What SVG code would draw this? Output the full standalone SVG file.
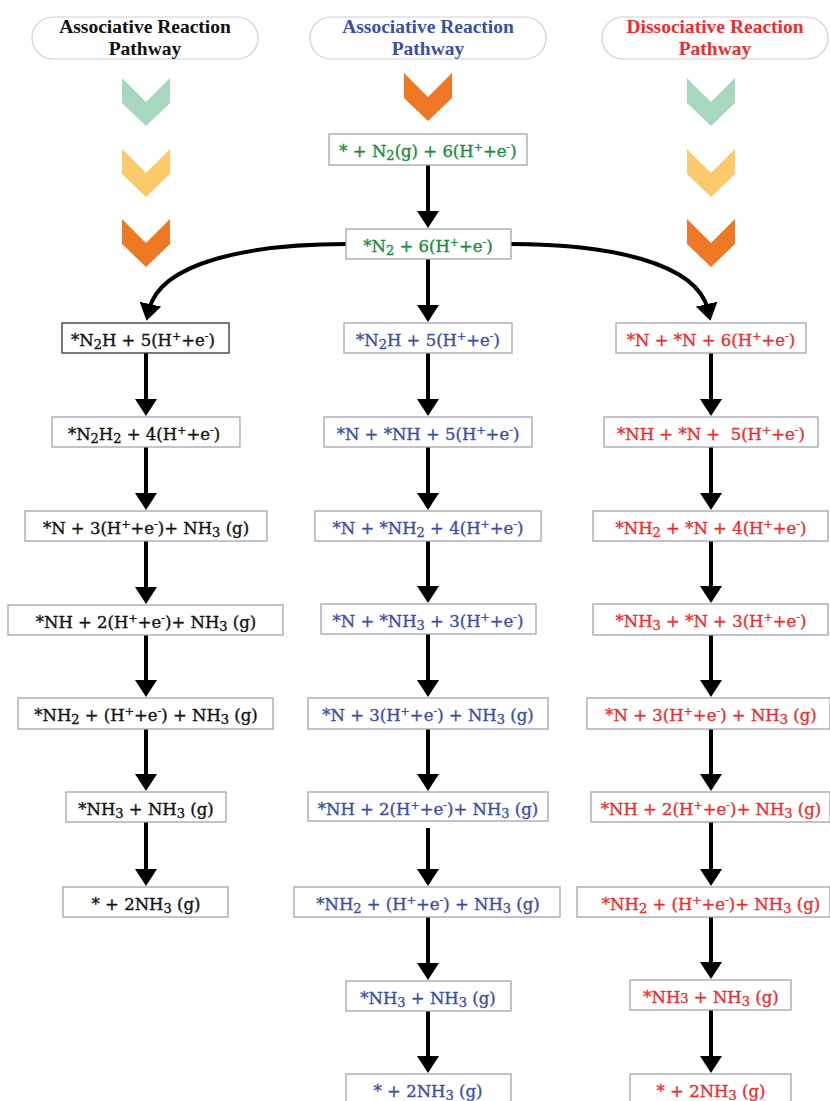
<svg xmlns="http://www.w3.org/2000/svg" width="830" height="1101" viewBox="0 0 830 1101">
<style>
.pill{fill:#fff;stroke:#cfcfd4;stroke-width:1.2}
.hd{font-family:"Liberation Serif",serif;font-weight:bold;font-size:19.5px;text-anchor:middle}
.box{fill:#fff;stroke:#a3a4b4;stroke-width:1.3}
.dk{stroke:#333}
.t{font-family:"DejaVu Serif","Liberation Serif",serif;font-size:16.5px;text-anchor:middle;stroke-width:0.35px}
.k{fill:#111;stroke:#111}
.b{fill:#3c4ea6;stroke:#3c4ea6}
.g{fill:#1c8a3c;stroke:#1c8a3c}
.r{fill:#ef2b2b;stroke:#ef2b2b}
.hd.k,.hd.b,.hd.r{stroke:none}
.s{font-size:13px;baseline-shift:-3px}
.p{font-size:11px;baseline-shift:6px}
.n{font-size:13px}
.ln{fill:none;stroke:#000;stroke-width:4;marker-end:url(#ah)}
</style>
<defs>
<marker id="ah" markerUnits="userSpaceOnUse" markerWidth="17" markerHeight="22" refX="6" refY="11" orient="auto" viewBox="0 0 17 22">
<polygon points="0,0 17,11 0,22" fill="#000"/>
</marker>
<path id="chev" d="M-24,0 L0,24 L24,0 L24,25 L0,48 L-24,25 Z"/>
</defs>
<rect width="830" height="1101" fill="#fff"/>

<g id="header-left">
<rect class="pill" x="32" y="17" width="226" height="42" rx="21"/>
<text class="hd k" x="145" y="33">Associative Reaction</text>
<text class="hd k" x="145" y="55">Pathway</text>
</g>
<g id="header-mid">
<rect class="pill" x="310" y="17" width="236" height="42" rx="21"/>
<text class="hd b" x="428" y="33">Associative Reaction</text>
<text class="hd b" x="428" y="55">Pathway</text>
</g>
<g id="header-right">
<rect class="pill" x="602" y="17" width="226" height="42" rx="21"/>
<text class="hd r" x="715" y="33">Dissociative Reaction</text>
<text class="hd r" x="715" y="55">Pathway</text>
</g>

<g id="chevrons">
<use href="#chev" x="146" y="78" fill="#a7d7bd"/>
<use href="#chev" x="146" y="149" fill="#fdca6b"/>
<use href="#chev" x="146" y="219" fill="#f07824"/>
<use href="#chev" x="428" y="73" fill="#f07824"/>
<use href="#chev" x="711" y="78" fill="#a7d7bd"/>
<use href="#chev" x="711" y="149" fill="#fdca6b"/>
<use href="#chev" x="711" y="219" fill="#f07824"/>
</g>

<g id="connectors">
<path class="ln" d="M346,244 C250,244 160,262 149,310"/>
<path class="ln" d="M511,244 C607,244 697,262 708,310"/>
<line class="ln" x1="146" y1="353" x2="146" y2="405"/>
<line class="ln" x1="146" y1="447" x2="146" y2="499"/>
<line class="ln" x1="146" y1="541" x2="146" y2="593"/>
<line class="ln" x1="146" y1="635" x2="146" y2="686"/>
<line class="ln" x1="146" y1="729" x2="146" y2="780"/>
<line class="ln" x1="146" y1="822" x2="146" y2="875"/>
<line class="ln" x1="428" y1="165" x2="428" y2="217"/>
<line class="ln" x1="428" y1="259" x2="428" y2="311"/>
<line class="ln" x1="428" y1="353" x2="428" y2="405"/>
<line class="ln" x1="428" y1="447" x2="428" y2="499"/>
<line class="ln" x1="428" y1="541" x2="428" y2="592"/>
<line class="ln" x1="428" y1="634" x2="428" y2="686"/>
<line class="ln" x1="428" y1="729" x2="428" y2="780"/>
<line class="ln" x1="428" y1="828" x2="428" y2="875"/>
<line class="ln" x1="428" y1="917" x2="428" y2="969"/>
<line class="ln" x1="428" y1="1011" x2="428" y2="1062"/>
<line class="ln" x1="711" y1="353" x2="711" y2="405"/>
<line class="ln" x1="711" y1="447" x2="711" y2="499"/>
<line class="ln" x1="711" y1="541" x2="711" y2="592"/>
<line class="ln" x1="711" y1="635" x2="711" y2="686"/>
<line class="ln" x1="711" y1="729" x2="711" y2="780"/>
<line class="ln" x1="711" y1="822" x2="711" y2="875"/>
<line class="ln" x1="711" y1="917" x2="711" y2="968"/>
<line class="ln" x1="711" y1="1010" x2="711" y2="1062"/>
</g>

<g id="L1"><rect class="box dk" x="62" y="323" width="167" height="30"/><text class="t k" x="143" y="346">*N<tspan class="s">2</tspan>H + 5(H<tspan class="p">+</tspan>+e<tspan class="p">-</tspan>)</text></g>
<g id="L2"><rect class="box" x="52" y="417" width="188" height="30"/><text class="t k" x="144" y="440">*N<tspan class="s">2</tspan>H<tspan class="s">2</tspan> + 4(H<tspan class="p">+</tspan>+e<tspan class="p">-</tspan>)</text></g>
<g id="L3"><rect class="box" x="25" y="511" width="242" height="30"/><text class="t k" x="146" y="534">*N + 3(H<tspan class="p">+</tspan>+e<tspan class="p">-</tspan>)+ NH<tspan class="s">3</tspan> (g)</text></g>
<g id="L4"><rect class="box" x="8" y="605" width="275" height="30"/><text class="t k" x="146" y="628">*NH + 2(H<tspan class="p">+</tspan>+e<tspan class="p">-</tspan>)+ NH<tspan class="s">3</tspan> (g)</text></g>
<g id="L5"><rect class="box" x="18" y="698" width="255" height="31"/><text class="t k" x="146" y="721">*NH<tspan class="s">2</tspan> + (H<tspan class="p">+</tspan>+e<tspan class="p">-</tspan>) + NH<tspan class="s">3</tspan> (g)</text></g>
<g id="L6"><rect class="box" x="66" y="792" width="160" height="30"/><text class="t k" x="146" y="815">*NH<tspan class="s">3</tspan> + NH<tspan class="s">3</tspan> (g)</text></g>
<g id="L7"><rect class="box" x="63" y="887" width="165" height="30"/><text class="t k" x="146" y="910">* + 2NH<tspan class="s">3</tspan> (g)</text></g>

<g id="M0"><rect class="box" x="329" y="134" width="198" height="31"/><text class="t g" x="428" y="157">* + N<tspan class="s">2</tspan>(g) + 6(H<tspan class="p">+</tspan>+e<tspan class="p">-</tspan>)</text></g>
<g id="M00"><rect class="box" x="346" y="229" width="165" height="30"/><text class="t g" x="428" y="252">*N<tspan class="s">2</tspan> + 6(H<tspan class="p">+</tspan>+e<tspan class="p">-</tspan>)</text></g>
<g id="M1"><rect class="box" x="344" y="323" width="168" height="30"/><text class="t b" x="428" y="346">*N<tspan class="s">2</tspan>H + 5(H<tspan class="p">+</tspan>+e<tspan class="p">-</tspan>)</text></g>
<g id="M2"><rect class="box" x="324" y="417" width="208" height="30"/><text class="t b" x="428" y="440">*N + *NH + 5(H<tspan class="p">+</tspan>+e<tspan class="p">-</tspan>)</text></g>
<g id="M3"><rect class="box" x="315" y="511" width="226" height="30"/><text class="t b" x="428" y="534">*N + *NH<tspan class="s">2</tspan> + 4(H<tspan class="p">+</tspan>+e<tspan class="p">-</tspan>)</text></g>
<g id="M4"><rect class="box" x="321" y="604" width="215" height="30"/><text class="t b" x="428" y="627">*N + *NH<tspan class="s">3</tspan> + 3(H<tspan class="p">+</tspan>+e<tspan class="p">-</tspan>)</text></g>
<g id="M5"><rect class="box" x="308" y="698" width="240" height="31"/><text class="t b" x="428" y="721">*N + 3(H<tspan class="p">+</tspan>+e<tspan class="p">-</tspan>) + NH<tspan class="s">3</tspan> (g)</text></g>
<g id="M6"><rect class="box" x="308" y="792" width="240" height="29"/><text class="t b" x="428" y="815">*NH + 2(H<tspan class="p">+</tspan>+e<tspan class="p">-</tspan>)+ NH<tspan class="s">3</tspan> (g)</text></g>
<g id="M7"><rect class="box" x="294" y="887" width="266" height="30"/><text class="t b" x="428" y="910">*NH<tspan class="s">2</tspan> + (H<tspan class="p">+</tspan>+e<tspan class="p">-</tspan>) + NH<tspan class="s">3</tspan> (g)</text></g>
<g id="M8"><rect class="box" x="346" y="981" width="165" height="30"/><text class="t b" x="428" y="1004">*NH<tspan class="s">3</tspan> + NH<tspan class="s">3</tspan> (g)</text></g>
<g id="M9"><rect class="box" x="346" y="1074" width="165" height="32"/><text class="t b" x="428" y="1097">* + 2NH<tspan class="s">3</tspan> (g)</text></g>

<g id="R1"><rect class="box" x="616" y="323" width="190" height="30"/><text class="t r" x="711" y="346">*N + *N + 6(H<tspan class="p">+</tspan>+e<tspan class="p">-</tspan>)</text></g>
<g id="R2"><rect class="box" x="604" y="417" width="214" height="30"/><text class="t r" x="711" y="440" xml:space="preserve">*NH + *N +  5(H<tspan class="p">+</tspan>+e<tspan class="p">-</tspan>)</text></g>
<g id="R3"><rect class="box" x="593" y="511" width="235" height="30"/><text class="t r" x="711" y="534">*NH<tspan class="s">2</tspan> + *N + 4(H<tspan class="p">+</tspan>+e<tspan class="p">-</tspan>)</text></g>
<g id="R4"><rect class="box" x="593" y="604" width="235" height="31"/><text class="t r" x="711" y="627">*NH<tspan class="s">3</tspan> + *N + 3(H<tspan class="p">+</tspan>+e<tspan class="p">-</tspan>)</text></g>
<g id="R5"><rect class="box" x="587" y="698" width="243" height="31"/><text class="t r" x="711" y="721">*N + 3(H<tspan class="p">+</tspan>+e<tspan class="p">-</tspan>) + NH<tspan class="s">3</tspan> (g)</text></g>
<g id="R6"><rect class="box" x="591" y="792" width="239" height="30"/><text class="t r" x="711" y="815">*NH + 2(H<tspan class="p">+</tspan>+e<tspan class="p">-</tspan>)+ NH<tspan class="s">3</tspan> (g)</text></g>
<g id="R7"><rect class="box" x="577" y="887" width="253" height="30"/><text class="t r" x="711" y="910">*NH<tspan class="s">2</tspan> + (H<tspan class="p">+</tspan>+e<tspan class="p">-</tspan>)+ NH<tspan class="s">3</tspan> (g)</text></g>
<g id="R8"><rect class="box" x="630" y="980" width="161" height="30"/><text class="t r" x="711" y="1003">*NH<tspan class="n">3</tspan> + NH<tspan class="s">3</tspan> (g)</text></g>
<g id="R9"><rect class="box" x="630" y="1074" width="161" height="32"/><text class="t r" x="711" y="1097">* + 2NH<tspan class="s">3</tspan> (g)</text></g>
</svg>
